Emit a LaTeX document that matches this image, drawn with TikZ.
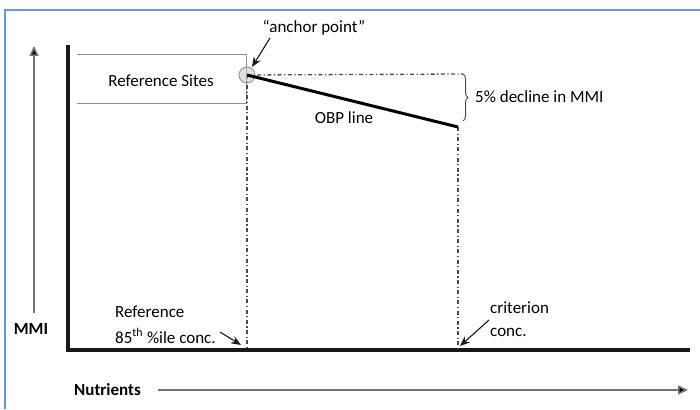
\documentclass[tikz,border=0pt]{standalone}
\usepackage{fontspec}
\setmainfont{Carlito}
\usetikzlibrary{arrows.meta,decorations.pathreplacing}
\definecolor{framecol}{RGB}{100,150,240}
\definecolor{boxgray}{RGB}{140,140,140}
\tikzset{
  txt/.style={inner sep=0pt, font=\fontsize{17}{20}\selectfont, text=black},
  dashdot/.style={draw=black!70, line width=1.3pt, dash pattern=on 4pt off 2.5pt on 1.2pt off 2.5pt},
  thinarrow/.style={draw=black!90, line width=1.1pt, -{Stealth[length=10pt,width=8pt]}},
  axisarrow/.style={draw=black!55, line width=1.6pt, -{Triangle[length=10pt,width=9pt,fill=black]}},
}
\begin{document}
\begin{tikzpicture}[x=1pt,y=-1pt]
\useasboundingbox (0,0) rectangle (700,409);
\fill[white] (0,0) rectangle (700,409);
% frame
\draw[framecol, line width=2pt] (5,409) -- (5,10) -- (700,10);
% axes
\coordinate (origin) at (68,350);
\coordinate (ytop) at (68,47);
\coordinate (xend) at (688,350);
\draw[line width=4pt, line cap=rect, black!90] (ytop) -- (origin) -- (xend);
% MMI arrow
\coordinate (mmiA) at (34,313);
\coordinate (mmiB) at (34,46);
\draw[axisarrow] (mmiA) -- (mmiB);
\node[txt, font=\fontsize{17}{20}\selectfont\bfseries] (mmi) at (31,329) {MMI};
% Nutrients
\node[txt, font=\fontsize{17}{20}\selectfont\bfseries, anchor=west] (nut) at (74,390) {Nutrients};
\coordinate (nA) at (158,390);
\coordinate (nB) at (688,390);
\draw[axisarrow] (nA) -- (nB);
% reference sites box
\coordinate (b1) at (77,55);
\coordinate (b2) at (246,55);
\coordinate (b3) at (246,103);
\coordinate (b4) at (77,103);
\draw[boxgray, line width=1pt] (b1) -- (b2) -- (b3) -- (b4);
\node[txt] (refsites) at (161,81) {Reference Sites};
% anchor point
\coordinate (anchor) at (247,75);
\coordinate (obpend) at (458,127);
\coordinate (dhend) at (463,74);
\coordinate (refbot) at (247,350);
\coordinate (critbot) at (458,350);
\draw[dashdot] (anchor) -- (dhend);
\draw[dashdot] (anchor) -- (refbot);
\draw[dashdot] (obpend) -- (critbot);
\node[circle, minimum size=16pt, inner sep=0pt, draw=black!40, fill=black!20, fill opacity=0.6, line width=1pt] (circ) at (anchor) {};
\draw[line width=3pt, black] (anchor) -- (obpend);
\node[txt] (obp) at (344,118) {OBP line};
% brace
\coordinate (brT) at (463,74);
\coordinate (brB) at (463,121);
\draw[black!70, line width=1pt, decorate, decoration={brace, amplitude=5pt}] (brT) -- (brB);
\node[txt, anchor=west] (decl) at (475,97) {5\% decline in MMI};
% anchor point label
\node[txt] (aplabel) at (314,28) {“anchor point”};
\coordinate (apA) at (270,38);
\coordinate (apB) at (252,67);
\draw[thinarrow] (apA) -- (apB);
% reference 85th
\node[txt, anchor=west] (ref1) at (115,312) {Reference};
\node[txt, anchor=west] (ref2) at (115,336) {85\textsuperscript{th} \%ile conc.};
\coordinate (rA) at (220,332);
\coordinate (rB) at (241,345);
\draw[thinarrow] (rA) -- (rB);
% criterion
\node[txt, anchor=west] (crit1) at (490,308) {criterion};
\node[txt, anchor=west] (crit2) at (490,332) {conc.};
\coordinate (cA) at (489,320);
\coordinate (cB) at (460,346);
\draw[thinarrow] (cA) -- (cB);
\end{tikzpicture}
\end{document}
